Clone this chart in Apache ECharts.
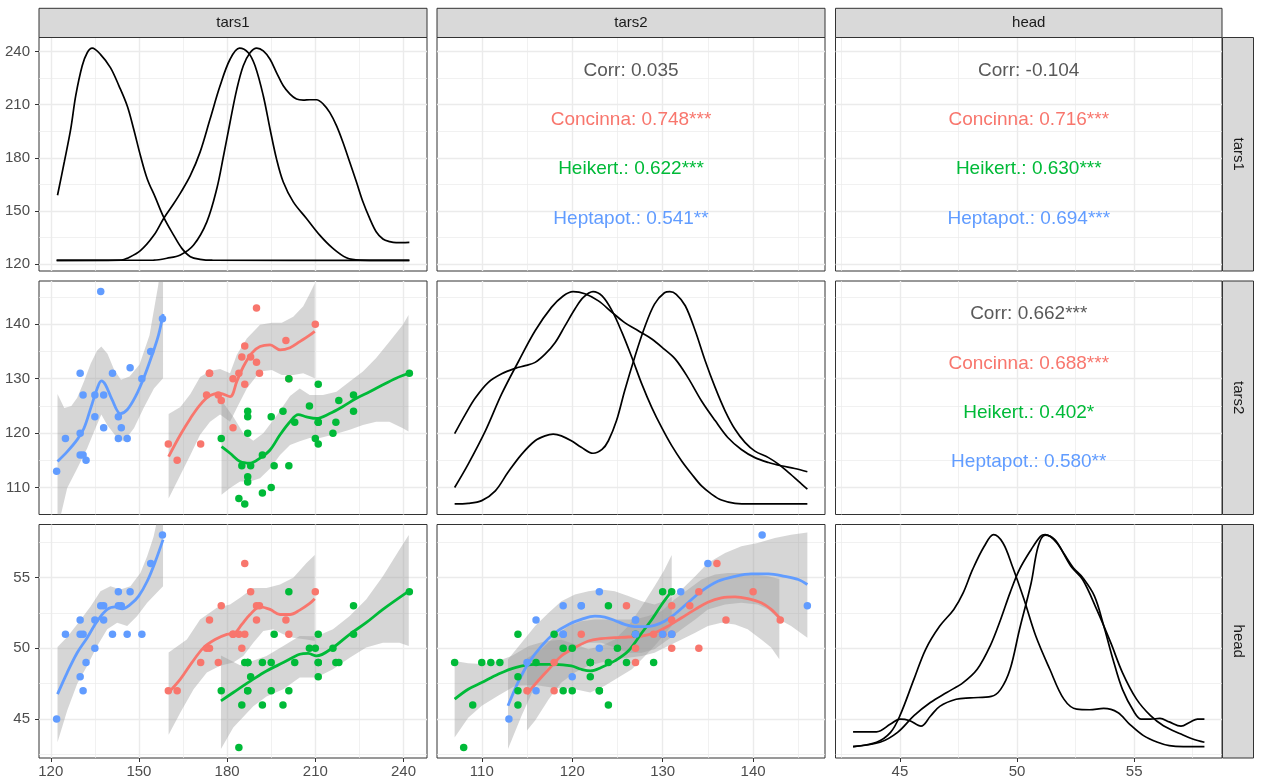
<!DOCTYPE html>
<html>
<head>
<meta charset="utf-8">
<script src="https://cdn.jsdelivr.net/npm/echarts@6/dist/echarts.min.js"></script>
<style>html,body{margin:0;padding:0;background:#fff}#c{width:1266px;height:783px}</style>
</head>
<body>
<div id="c"></div>
<script>
// ---------------- data (flea beetles) ----------------
const species = ['Concinna', 'Heikert.', 'Heptapot.'];
const speciesColors = ['#F8766D', '#00BA38', '#619CFF'];
const varNames = ['tars1', 'tars2', 'head'];

const conTars1 = [191,185,200,173,171,160,188,186,174,163,190,174,201,190,182,184,177,178,210,182,186];
const conTars2 = [131,134,137,127,118,118,134,129,131,115,143,131,130,133,130,131,127,126,140,121,136];
const conHead  = [53,50,52,50,49,47,54,51,52,47,52,50,51,53,51,51,49,53,54,51,56];
const heiTars1 = [186,211,201,242,184,211,217,223,208,199,211,218,203,192,195,211,187,192,223,188,216,185,178,187,187,201,187,210,196,195,187];
const heiTars2 = [107,122,114,131,108,118,122,127,125,124,129,126,122,116,123,122,123,109,124,114,120,114,119,111,112,130,120,119,114,110,124];
const heiHead  = [49,49,47,54,43,51,49,51,50,46,49,49,49,49,47,48,47,46,53,48,50,46,47,49,49,54,47,50,51,49,49];
const hepTars1 = [158,146,151,122,138,132,131,135,125,130,130,138,130,143,154,147,141,131,144,137,143,135];
const hepTars2 = [141,119,130,113,121,115,127,123,119,120,131,127,116,123,135,132,131,116,121,146,119,127];
const hepHead  = [58,51,51,45,53,49,51,50,51,48,51,52,52,54,56,54,51,47,53,53,53,52];

// tick labels
const tars1Major = [120,150,180,210,240], tars1Minor = [135,165,195,225];
const tars2Major = [110,120,130,140],     tars2Minor = [115,125,135,145];
const headMajor  = [45,50,55],            headMinor  = [42.5,47.5,52.5,57.5];

// correlation labels
const corrT1T2 = ['Corr: 0.035', 'Concinna: 0.748***', 'Heikert.: 0.622***', 'Heptapot.: 0.541**'];
const corrT1Hd = ['Corr: -0.104', 'Concinna: 0.716***', 'Heikert.: 0.630***', 'Heptapot.: 0.694***'];
const corrT2Hd = ['Corr: 0.662***', 'Concinna: 0.688***', 'Heikert.: 0.402*', 'Heptapot.: 0.580**'];

// densities (diagonal), in the axis units of the panel
const densT1Con = [[122,122],[144,122.2],[146.0,123.2],[150.5,127.5],[155.0,136.0],[158.4,145.7],[161.8,154.0],[164.1,160.0],[167.5,170.0],[170.8,183.2],[174.2,201.9],[177.6,220.7],[181.0,235.7],[184.2,242.0],[187.2,239.4],[189.5,232.0],[192.3,215.1],[194.6,196.3],[196.8,179.4],[199.1,166.3],[202.5,155.1],[207.0,145.7],[211.5,136.3],[216.0,128.8],[220.6,123.5],[225.1,122.2],[242,122]];
const densT1Hei = [[122,122],[155,122.2],[159.5,123.2],[164.1,125.1],[168.6,130.7],[173.1,143.8],[176.5,162.6],[178.8,181.3],[181.0,200.1],[183.3,218.8],[185.5,232.0],[187.8,239.4],[190.1,242.0],[192.3,240.4],[194.6,235.7],[196.8,228.2],[199.1,220.7],[201.4,216.0],[203.6,213.2],[205.9,212.6],[208.1,212.8],[210.4,212.8],[212.7,210.4],[214.9,205.7],[217.2,198.2],[219.4,188.8],[221.7,177.6],[224.0,166.3],[226.2,155.1],[228.5,145.7],[230.7,138.2],[233.0,134.1],[235.3,132.6],[237.5,132.0],[242,132.2]];
const densT1Hep = [[122.3,158.8],[124.6,177.6],[126.8,196.3],[128.5,215.1],[130.7,232.0],[132.4,239.4],[134.1,242.0],[136.9,238.5],[140.3,231.0],[143.2,220.7],[146.0,209.4],[148.2,196.3],[150.5,181.3],[152.8,168.2],[155.6,157.5],[158.4,146.5],[161.8,136.3],[164.6,128.8],[167.5,124.1],[170.8,122.6],[175,122.1],[242,122]];

const densT2Con = [[107.0,107.0],[108.5,107.1],[110.0,107.6],[111.5,109.4],[112.9,112.8],[114.4,116.1],[115.9,118.6],[117.0,119.5],[117.9,119.8],[118.8,119.5],[119.9,118.6],[121.0,117.4],[122.3,116.3],[123.3,117.0],[124.0,118.6],[124.9,122.3],[125.8,127.8],[126.9,133.9],[128.0,139.4],[129.1,143.7],[130.2,145.8],[130.8,146.0],[131.5,145.5],[132.5,143.4],[133.6,138.8],[134.7,133.3],[135.8,128.4],[136.9,124.1],[138.0,120.7],[139.1,118.3],[140.2,116.7],[141.7,115.5],[142.8,114.3],[143.9,112.8],[145.0,111.2],[146.0,109.7]];
const densT2Hei = [[107.0,119.9],[108.2,123.5],[109.3,126.5],[110.7,129.3],[112.2,130.9],[113.7,131.9],[114.8,132.4],[115.9,133.0],[117.0,134.5],[118.1,136.6],[119.2,139.7],[120.3,142.8],[121.2,144.9],[122.3,146.0],[123.3,145.2],[124.4,142.5],[125.5,138.5],[126.6,133.9],[127.7,129.0],[128.8,124.7],[129.9,121.0],[131.0,117.7],[132.1,114.9],[133.2,112.5],[134.3,110.3],[135.4,108.8],[136.5,107.7],[138.0,107.1],[139.8,107.0],[146.0,107.0]];
const densT2Hep = [[107.0,110.0],[108.5,114.3],[110.4,120.4],[112.2,127.2],[114.1,133.3],[115.9,138.8],[117.7,143.1],[119.0,145.2],[120.1,146.0],[121.4,145.6],[122.9,144.3],[124.4,142.2],[125.8,140.3],[127.3,138.8],[128.8,137.3],[130.2,135.4],[131.4,133.6],[132.8,130.2],[134.3,125.9],[135.8,122.3],[137.2,119.2],[138.7,117.0],[140.2,115.5],[141.7,114.6],[143.1,114.0],[144.6,113.5],[146.0,112.9]];

const densHdCon = [[43.0,43.05],[44.15,43.36],[44.9,44.06],[45.6,45.24],[46.3,46.17],[47.0,46.88],[47.7,47.58],[48.3,48.52],[48.85,50.16],[49.3,52.04],[49.7,53.92],[50.1,55.56],[50.6,56.97],[51.0,57.91],[51.2,58.03],[51.7,57.44],[52.3,55.8],[52.8,54.86],[53.4,52.75],[54.0,50.4],[54.5,48.29],[55.1,46.41],[55.7,45.24],[56.25,44.53],[57.0,43.94],[57.5,43.59],[58.0,43.36]];
const densHdHei = [[43.0,43.05],[44.0,43.36],[44.6,44.06],[45.0,45.24],[45.6,47.82],[46.1,49.93],[46.7,51.57],[47.3,52.75],[47.7,53.92],[48.1,55.56],[48.6,57.21],[49.0,58.03],[49.4,57.44],[49.8,55.8],[50.3,53.45],[50.8,50.87],[51.4,48.52],[52.0,46.41],[52.55,45.7],[53.1,45.66],[53.7,45.75],[54.3,45.47],[54.8,44.65],[55.4,43.83],[56.0,43.36],[56.5,43.12],[57.1,43.05],[58.0,43.05]];
const densHdHep = [[43.0,44.1],[44.0,44.1],[44.6,44.65],[45.0,45.0],[45.4,44.9],[45.9,44.5],[46.3,45.2],[46.7,45.9],[47.4,46.4],[48.0,46.5],[48.9,46.6],[49.3,47.1],[49.7,48.5],[50.1,51.3],[50.6,54.6],[50.9,57.2],[51.2,58.0],[51.6,57.7],[52.0,56.7],[52.4,55.7],[52.8,55.0],[53.3,53.7],[53.7,51.6],[54.1,49.2],[54.5,47.1],[55.0,45.5],[55.3,45.0],[55.7,45.0],[56.1,45.05],[56.5,44.8],[57.0,44.5],[57.4,44.8],[57.7,45.0],[58.0,45.0]];

// loess smooths (fit, upper, lower)
// tars1 (x) vs tars2 (y)
const fitT1T2Con = [[160.1,115.7],[164.1,119.7],[167.5,122.7],[170.8,125.2],[174.2,126.9],[177.6,127.3],[181.0,126.7],[183.3,129.5],[185.5,132.2],[188.4,134.7],[191.2,135.9],[194.6,136.2],[198.0,135.3],[201.4,135.7],[204.7,136.8],[208.1,138.0],[209.8,138.7]];
const hiT1T2Con  = [[160.1,123.5],[164.1,124.8],[167.5,127.2],[170.8,130.3],[174.2,131.4],[177.6,131.8],[181.0,131.0],[183.3,134.4],[186.7,137.4],[191.2,139.9],[195.2,140.3],[198.6,140.3],[202.5,141.4],[205.9,143.3],[208.1,145.6],[209.8,147.5]];
const loT1T2Con  = [[160.1,108.0],[164.1,112.3],[167.5,116.0],[170.8,119.7],[174.2,122.1],[177.6,123.4],[181.0,122.1],[183.3,124.6],[186.7,128.2],[191.2,131.3],[195.2,131.6],[198.6,130.7],[202.5,130.7],[205.9,131.0],[209.8,130.1]];
const fitT1T2Hei = [[178.1,117.5],[181.0,116.3],[184.4,114.8],[187.8,114.5],[191.2,115.4],[194.6,116.9],[198.0,119.7],[201.4,122.1],[204.2,123.4],[207.0,123.0],[210.4,122.7],[214.9,123.6],[219.4,124.9],[224.0,126.4],[228.5,127.6],[233.0,128.9],[237.5,130.1],[241.7,131.0]];
const hiT1T2Hei  = [[178.1,126.0],[182.2,122.9],[185.5,120.0],[188.9,118.6],[192.3,120.0],[196.8,123.2],[201.4,126.8],[204.7,128.2],[208.1,127.0],[212.6,127.0],[217.2,127.6],[221.7,129.5],[226.2,131.3],[230.7,133.8],[235.2,136.8],[239.8,139.9],[241.7,141.7]];
const loT1T2Hei  = [[178.1,108.7],[181.0,109.9],[184.4,111.1],[187.8,111.1],[191.2,111.7],[194.6,113.5],[198.0,116.0],[201.4,117.8],[204.7,118.5],[208.1,119.1],[211.5,119.1],[216.0,119.7],[221.7,120.6],[226.2,121.5],[230.7,122.1],[235.2,122.1],[239.8,120.9],[241.7,120.3]];
const fitT1T2Hep = [[122.3,114.8],[125.6,116.6],[129.0,118.8],[131.3,120.9],[133.6,124.6],[135.8,128.2],[137.2,129.6],[138.6,128.9],[140.9,126.1],[143.7,123.6],[146.0,124.3],[148.8,126.7],[151.6,130.1],[154.5,134.4],[156.7,138.1],[158.2,141.9]];
const hiT1T2Hep  = [[122.3,127.2],[124.6,124.6],[127.0,125.0],[129.0,126.5],[131.3,129.5],[133.6,132.8],[135.8,135.2],[137.2,135.9],[139.3,134.6],[141.6,131.6],[143.9,129.8],[146.8,130.4],[150.2,132.6],[153.6,138.0],[156.5,147.0],[158.2,153.7]];
const loT1T2Hep  = [[122.3,102.4],[125.6,109.9],[129.0,113.5],[132.4,117.2],[135.2,120.9],[137.2,123.4],[139.2,121.5],[142.6,119.1],[144.9,118.5],[148.3,120.9],[151.6,124.6],[155.1,128.2],[158.2,130.1]];

// tars1 (x) vs head (y)
const fitT1HdCon = [[160.1,46.88],[164.1,47.82],[168.0,48.99],[172.0,50.05],[175.9,50.63],[179.9,50.99],[182.7,51.10],[185.0,51.69],[187.8,52.39],[191.2,52.93],[194.6,52.75],[198.0,52.39],[201.4,52.39],[204.7,52.70],[208.1,53.17],[209.8,53.50]];
const hiT1HdCon  = [[160.1,49.7],[166.3,50.63],[170.8,52.04],[176.5,52.86],[181.0,53.10],[184.4,53.57],[188.9,54.27],[193.4,54.27],[198.0,54.51],[202.5,54.98],[207.0,56.03],[209.8,56.6]];
const loT1HdCon  = [[160.1,43.9],[164.1,45.47],[168.6,47.11],[173.1,48.29],[177.6,48.76],[182.1,48.99],[185.5,49.46],[188.9,50.40],[192.3,51.22],[195.7,51.34],[199.1,50.99],[202.5,50.75],[207.0,50.63],[209.8,50.52]];
const fitT1HdHei = [[177.9,46.29],[182.1,46.88],[188.9,47.82],[193.4,48.40],[199.1,48.99],[204.7,49.58],[207.6,49.65],[210.4,49.46],[216.0,50.05],[221.7,50.99],[227.3,51.81],[233.0,52.75],[241.8,54.04]];
const hiT1HdHei  = [[177.9,49.5],[184.4,48.8],[193.4,49.46],[199.1,50.16],[204.7,50.87],[210.4,50.85],[216.0,51.34],[221.7,52.28],[227.3,53.45],[233.0,55.09],[238.6,56.97],[241.8,58.0]];
const loT1HdHei  = [[177.9,42.89],[182.1,44.4],[188.9,45.9],[193.4,46.6],[199.1,47.11],[204.7,47.93],[210.4,47.93],[216.0,48.52],[221.7,49.34],[227.3,50.05],[233.0,50.40],[238.6,50.40],[241.8,50.16]];
const fitT1HdHep = [[122.3,46.76],[125.6,48.29],[129.0,49.69],[132.4,50.75],[135.8,51.92],[139.2,52.75],[142.0,52.93],[144.3,52.79],[147.1,53.10],[149.9,53.69],[152.8,54.74],[155.6,56.15],[158.2,57.68]];
const hiT1HdHep  = [[122.3,50.1],[125.6,50.8],[129.0,51.7],[133.6,52.98],[136.9,54.04],[140.3,54.39],[143.7,54.15],[147.1,54.39],[150.5,55.33],[152.8,56.5],[155.0,57.9],[158.2,61.0]];
const loT1HdHep  = [[122.3,43.36],[125.6,45.6],[129.0,47.5],[132.4,48.76],[135.8,50.16],[139.2,51.34],[142.6,51.81],[146.0,51.57],[149.4,52.28],[152.8,53.22],[155.0,53.69],[158.2,54.39]];

// tars2 (x) vs head (y)
const fitT2HdCon = [[115.0,46.76],[115.9,47.46],[117.4,48.52],[118.8,49.46],[120.3,50.05],[121.8,50.52],[123.2,50.68],[124.7,50.75],[126.2,50.80],[127.7,50.87],[129.1,51.10],[130.6,51.57],[132.1,52.16],[133.6,52.75],[135.0,53.26],[136.5,53.57],[138.0,53.64],[139.4,53.52],[140.9,53.22],[142.0,52.75],[142.9,52.16]];
const hiT2HdCon  = [[115.0,49.3],[116.6,49.93],[118.1,50.87],[119.6,51.57],[121.0,51.92],[122.5,52.04],[125.5,52.04],[126.9,52.04],[128.4,52.28],[129.9,52.63],[131.3,53.45],[132.8,54.15],[134.3,54.86],[135.8,55.21],[137.2,55.33],[138.7,55.33],[140.2,55.21],[141.7,55.09],[142.9,54.9]];
const loT2HdCon  = [[115.0,44.2],[115.9,44.9],[117.4,46.41],[118.8,47.58],[120.3,48.29],[121.8,48.76],[123.2,48.99],[124.7,49.23],[126.2,49.34],[127.7,49.46],[129.1,49.69],[130.6,50.16],[132.1,50.63],[133.6,51.10],[135.0,51.57],[136.5,51.81],[138.0,51.69],[139.4,51.34],[140.9,50.63],[142.0,50.05],[142.9,49.23]];
const fitT2HdHei = [[107.0,46.41],[108.5,47.11],[110.0,47.58],[111.8,48.17],[113.7,48.64],[115.9,48.87],[118.1,48.87],[119.9,48.76],[121.0,48.52],[122.0,48.40],[123.2,48.64],[124.7,49.11],[126.2,49.81],[127.7,51.10],[128.8,52.04],[129.9,53.10],[131.0,54.04]];
const hiT2HdHei  = [[107.0,49.1],[108.5,48.95],[110.0,48.9],[111.8,49.1],[113.3,49.46],[115.2,50.16],[117.0,50.5],[118.8,50.6],[120.3,50.28],[121.8,49.93],[123.2,50.16],[124.7,50.63],[126.2,51.57],[127.7,52.98],[129.1,54.39],[130.2,55.56],[131.0,56.6]];
const loT2HdHei  = [[107.0,43.7],[108.5,45.1],[110.0,45.94],[111.8,46.64],[113.7,47.35],[115.9,47.4],[118.1,47.2],[120.3,47.11],[122.0,46.88],[123.6,47.35],[125.1,47.93],[126.6,48.52],[127.7,49.23],[129.1,50.16],[130.2,50.99],[131.0,51.57]];
const fitT2HdHep = [[112.9,45.94],[114.0,47.58],[115.2,48.99],[116.6,50.16],[118.1,51.10],[119.6,51.69],[121.0,52.04],[122.5,52.28],[123.6,52.21],[124.7,51.97],[125.8,51.69],[126.9,51.53],[128.0,51.53],[129.1,51.62],[130.2,51.92],[131.3,52.39],[132.8,53.22],[134.3,54.04],[136.1,54.74],[138.0,55.09],[139.8,55.26],[141.7,55.26],[143.5,55.09],[145.0,54.86],[146.0,54.51]];
const hiT2HdHep  = [[112.9,49.23],[114.4,50.40],[115.9,51.57],[117.4,52.51],[118.8,53.33],[120.3,53.80],[121.8,54.04],[123.2,54.15],[124.7,54.04],[126.2,53.69],[127.7,53.33],[129.1,53.10],[130.6,53.45],[132.1,54.15],[133.6,55.09],[135.0,56.03],[136.9,56.74],[138.7,57.21],[140.5,57.44],[142.4,57.79],[144.2,58.03],[146.0,58.19]];
const loT2HdHep  = [[112.9,42.89],[114.4,45.23],[115.9,47.35],[117.4,48.76],[118.8,49.46],[120.3,50.05],[121.8,50.40],[123.2,50.40],[124.7,50.05],[126.2,49.69],[127.7,49.69],[129.1,49.93],[130.6,50.63],[132.1,51.34],[133.6,52.04],[135.0,52.75],[136.9,53.10],[138.7,53.22],[140.5,53.10],[141.7,52.75],[142.9,52.04],[144.2,51.57],[146.0,50.75]];

// ---------------- layout / style ----------------
const FONT = '"Liberation Sans", Arial, Helvetica, sans-serif';
const colLeft = [39, 437, 835.5], colWidth = [388, 388, 386.5];
const rowTop = [37.5, 281, 524.5], rowHeight = 233.5;
const stripTop = 8.3, stripH = 29.2, stripRightX = 1222.5, stripRightW = 31;
const gridLineColor = '#EBEBEB';

const varValues = [[conTars1, heiTars1, hepTars1], [conTars2, heiTars2, hepTars2], [conHead, heiHead, hepHead]];
const majors = [tars1Major, tars2Major, headMajor];
const minors = [tars1Minor, tars2Minor, headMinor];

function limits(groups) {
  let mn = Infinity, mx = -Infinity;
  groups.forEach(g => g.forEach(v => { if (v < mn) mn = v; if (v > mx) mx = v; }));
  const d = (mx - mn) * 0.05;
  return [mn - d, mx + d];
}
const lims = varValues.map(limits);

const grids = [], xAxes = [], yAxes = [], series = [];

function gridLineSeries(idx, xMaj, xMin, yMaj, yMin) {
  const d = [];
  xMin.forEach(v => d.push({ xAxis: v, lineStyle: { color: gridLineColor, width: 0.7, type: 'solid' } }));
  yMin.forEach(v => d.push({ yAxis: v, lineStyle: { color: gridLineColor, width: 0.7, type: 'solid' } }));
  xMaj.forEach(v => d.push({ xAxis: v, lineStyle: { color: gridLineColor, width: 1.4, type: 'solid' } }));
  yMaj.forEach(v => d.push({ yAxis: v, lineStyle: { color: gridLineColor, width: 1.4, type: 'solid' } }));
  return {
    type: 'line', xAxisIndex: idx, yAxisIndex: idx, data: [], silent: true, z: 1,
    markLine: { silent: true, z: 1, symbol: ['none', 'none'], label: { show: false }, animation: false,
      emphasis: { disabled: true }, data: d }
  };
}

for (let r = 0; r < 3; r++) {
  for (let c = 0; c < 3; c++) {
    const idx = r * 3 + c;
    grids.push({ left: colLeft[c], top: rowTop[r], width: colWidth[c], height: rowHeight, z: 0,
      show: true, backgroundColor: '#FFFFFF', borderColor: '#333333', borderWidth: 1,
      containLabel: false, outerBoundsMode: 'none' });
    xAxes.push({ type: 'value', gridIndex: idx, min: lims[c][0], max: lims[c][1], position: 'bottom',
      axisLine: { show: false }, splitLine: { show: false }, minorSplitLine: { show: false },
      axisTick: { show: r === 2, customValues: majors[c], length: 4, lineStyle: { color: '#333333', width: 1 } },
      axisLabel: { show: r === 2, customValues: majors[c], color: '#4D4D4D', fontSize: 15, fontFamily: FONT, margin: 6 } });
    yAxes.push({ type: 'value', gridIndex: idx, min: lims[r][0], max: lims[r][1], position: 'left',
      axisLine: { show: false }, splitLine: { show: false }, minorSplitLine: { show: false },
      axisTick: { show: c === 0, customValues: majors[r], length: 4, lineStyle: { color: '#333333', width: 1 } },
      axisLabel: { show: c === 0, customValues: majors[r], color: '#4D4D4D', fontSize: 15, fontFamily: FONT, margin: 9 } });
    series.push(gridLineSeries(idx, majors[c], minors[c], majors[r], minors[r]));
  }
}

// diagonal densities
function densLine(idx, pts) {
  return { type: 'line', xAxisIndex: idx, yAxisIndex: idx, data: pts, showSymbol: false, symbol: 'none', z: 3,
    smooth: 0.35, silent: true, lineStyle: { color: '#000000', width: 1.7 } };
}
[densT1Con, densT1Hei, densT1Hep].forEach(p => series.push(densLine(0, p)));
[densT2Con, densT2Hei, densT2Hep].forEach(p => series.push(densLine(4, p)));
[densHdCon, densHdHei, densHdHep].forEach(p => series.push(densLine(8, p)));

// scatter + smooth panels
function bandSeries(idx, upper, lower) {
  const poly = upper.concat(lower.slice().reverse());
  return { type: 'custom', xAxisIndex: idx, yAxisIndex: idx, clip: true, silent: true, z: 3,
    data: [poly[0]],
    renderItem: function (params, api) {
      return { type: 'polygon', shape: { points: poly.map(p => api.coord(p)) },
        style: { fill: 'rgba(153,153,153,0.4)', stroke: null } };
    } };
}
function fitSeries(idx, pts, color) {
  return { type: 'line', xAxisIndex: idx, yAxisIndex: idx, data: pts, showSymbol: false, symbol: 'none', z: 3,
    smooth: 0.35, clip: true, silent: true, lineStyle: { color: color, width: 2.8 } };
}
const scatterPanels = [
  { r: 1, c: 0, fits: [fitT1T2Con, fitT1T2Hei, fitT1T2Hep], his: [hiT1T2Con, hiT1T2Hei, hiT1T2Hep], los: [loT1T2Con, loT1T2Hei, loT1T2Hep] },
  { r: 2, c: 0, fits: [fitT1HdCon, fitT1HdHei, fitT1HdHep], his: [hiT1HdCon, hiT1HdHei, hiT1HdHep], los: [loT1HdCon, loT1HdHei, loT1HdHep] },
  { r: 2, c: 1, fits: [fitT2HdCon, fitT2HdHei, fitT2HdHep], his: [hiT2HdCon, hiT2HdHei, hiT2HdHep], los: [loT2HdCon, loT2HdHei, loT2HdHep] }
];
scatterPanels.forEach(p => {
  const idx = p.r * 3 + p.c;
  for (let s = 0; s < 3; s++) {
    const xs = varValues[p.c][s], ys = varValues[p.r][s];
    series.push({ type: 'scatter', xAxisIndex: idx, yAxisIndex: idx, name: species[s], z: 3,
      data: xs.map((v, i) => [v, ys[i]]), symbolSize: 7.5, silent: true,
      itemStyle: { color: speciesColors[s], opacity: 1 } });
  }
  for (let s = 0; s < 3; s++) {
    series.push(bandSeries(idx, p.his[s], p.los[s]));
    series.push(fitSeries(idx, p.fits[s], speciesColors[s]));
  }
});

// strips and correlation text
const graphics = [];
for (let c = 0; c < 3; c++) {
  graphics.push({ type: 'rect', z: 10, shape: { x: colLeft[c], y: stripTop, width: colWidth[c], height: stripH },
    style: { fill: '#D9D9D9', stroke: '#333333', lineWidth: 1 } });
  graphics.push({ type: 'text', z: 11, x: colLeft[c] + colWidth[c] / 2, y: stripTop + stripH / 2,
    style: { text: varNames[c], fill: '#1A1A1A', fontSize: 15, fontFamily: FONT, align: 'center', verticalAlign: 'middle' } });
}
for (let r = 0; r < 3; r++) {
  graphics.push({ type: 'rect', z: 10, shape: { x: stripRightX, y: rowTop[r], width: stripRightW, height: rowHeight },
    style: { fill: '#D9D9D9', stroke: '#333333', lineWidth: 1 } });
  graphics.push({ type: 'text', z: 11, x: stripRightX + stripRightW / 2, y: rowTop[r] + rowHeight / 2, rotation: -Math.PI / 2,
    style: { text: varNames[r], fill: '#1A1A1A', fontSize: 15, fontFamily: FONT, align: 'center', verticalAlign: 'middle' } });
}
const corrColors = ['#595959', speciesColors[0], speciesColors[1], speciesColors[2]];
const corrOffsets = [33, 82.5, 131.5, 181];
[[0, 1, corrT1T2], [0, 2, corrT1Hd], [1, 2, corrT2Hd]].forEach(([r, c, labels]) => {
  labels.forEach((t, i) => {
    graphics.push({ type: 'text', z: 100, x: colLeft[c] + colWidth[c] / 2, y: rowTop[r] + corrOffsets[i],
      style: { text: t, fill: corrColors[i], fontSize: 19, fontFamily: FONT, align: 'center', verticalAlign: 'middle' } });
  });
});

const chart = echarts.init(document.getElementById('c'), null, { renderer: 'canvas' });
chart.setOption({
  animation: false,
  backgroundColor: '#FFFFFF',
  grid: grids, xAxis: xAxes, yAxis: yAxes, series: series, graphic: graphics
});
</script>
</body>
</html>
